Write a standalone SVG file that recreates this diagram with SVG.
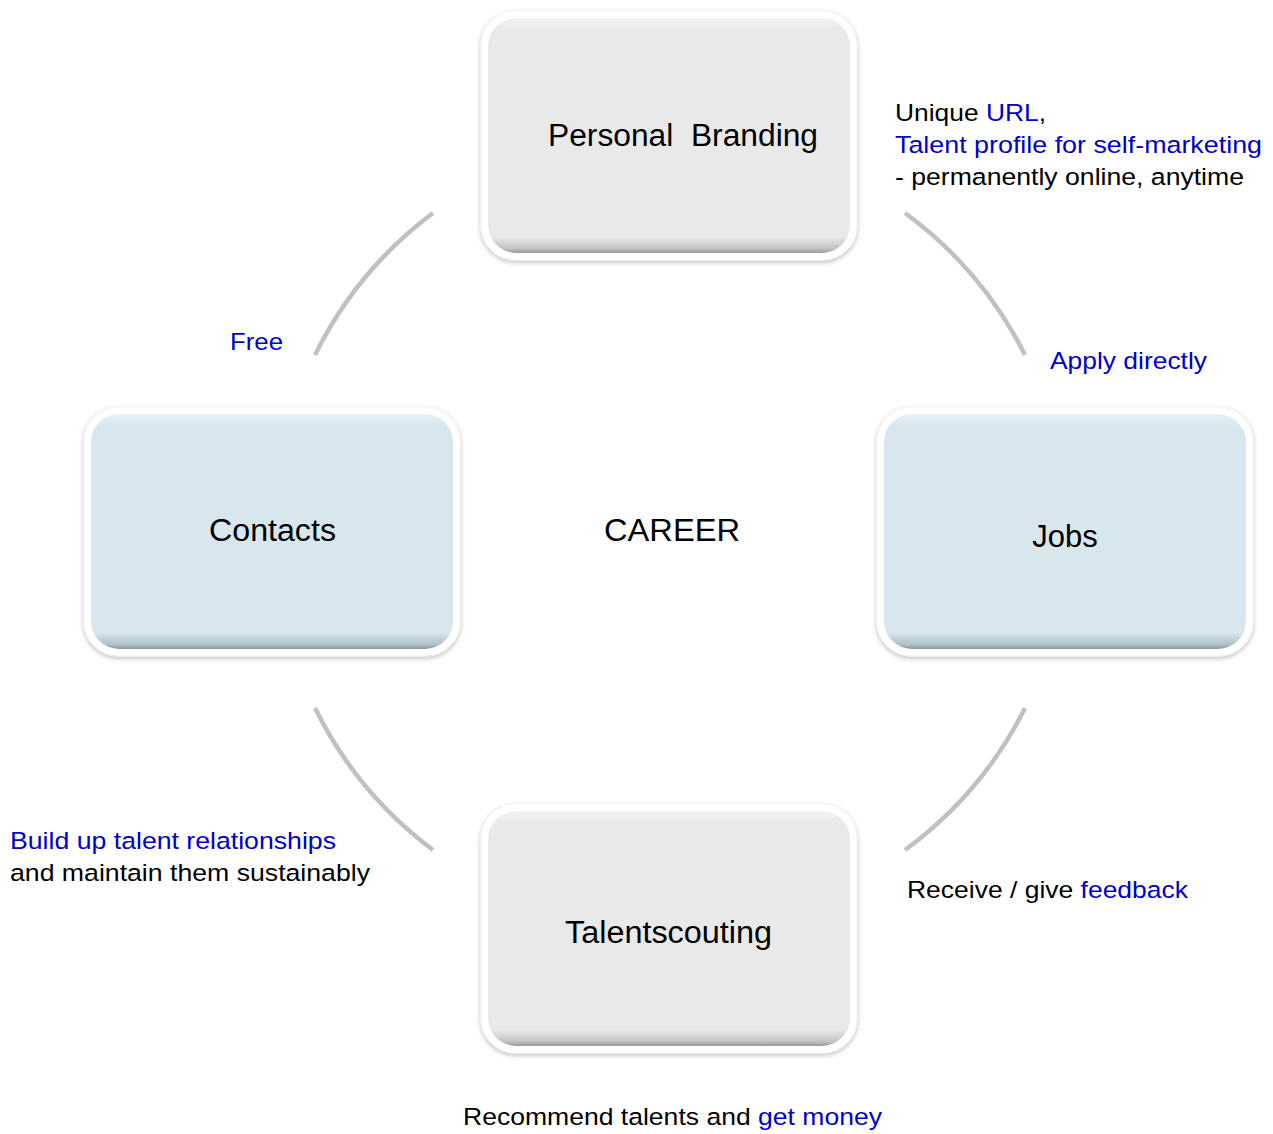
<svg xmlns="http://www.w3.org/2000/svg" width="1273" height="1134" viewBox="0 0 1273 1134">
<style>
.t{font-family:"Liberation Sans",Arial,sans-serif;fill:#000}
.n{font-size:31px}
.a{font-size:24.5px}
.b{fill:#0000cc}
.arc{fill:none;stroke:#c0c0c0;stroke-width:4.5}
.outer{fill:#fff;stroke:#f2f2f2;stroke-width:1;filter:url(#sh)}
</style>
<defs>
<filter id="sh" x="-10%" y="-10%" width="120%" height="125%">
<feGaussianBlur in="SourceAlpha" stdDeviation="2.5"/>
<feOffset dy="2"/>
<feComponentTransfer><feFuncA type="linear" slope="0.25"/></feComponentTransfer>
<feMerge><feMergeNode/><feMergeNode in="SourceGraphic"/></feMerge>
</filter>
<linearGradient id="gg" x1="0" y1="0" x2="0" y2="1">
<stop offset="0" stop-color="#f4f4f4"/>
<stop offset="0.05" stop-color="#e9e9e9"/>
<stop offset="0.93" stop-color="#e9e9e9"/>
<stop offset="0.98" stop-color="#c4c4c4"/>
<stop offset="1" stop-color="#9a9a9a"/>
</linearGradient>
<linearGradient id="gb" x1="0" y1="0" x2="0" y2="1">
<stop offset="0" stop-color="#e6f3f8"/>
<stop offset="0.05" stop-color="#d8e6ee"/>
<stop offset="0.93" stop-color="#d8e6ee"/>
<stop offset="0.98" stop-color="#b0c1ca"/>
<stop offset="1" stop-color="#8497a2"/>
</linearGradient>
</defs>
<rect width="1273" height="1134" fill="#fff"/>
<g id="connectors">
<path class="arc" d="M433,213 A396,396 0 0 0 315,355"/>
<path class="arc" d="M905,213 A396,396 0 0 1 1025,355"/>
<path class="arc" d="M1025,708 A396,396 0 0 1 905,850"/>
<path class="arc" d="M315,708 A396,396 0 0 0 433,850"/>
</g>
<g id="personal-branding">
<rect class="outer" x="481" y="11" width="376" height="249" rx="34"/>
<rect x="488" y="18" width="362" height="235" rx="28" fill="url(#gg)"/>
<text class="t n" x="548" y="146" xml:space="preserve" textLength="270" lengthAdjust="spacingAndGlyphs">Personal  Branding</text>
</g>
<g id="contacts">
<rect class="outer" x="84" y="407" width="376" height="249" rx="34"/>
<rect x="91" y="414" width="362" height="235" rx="28" fill="url(#gb)"/>
<text class="t n" x="209" y="541" textLength="127" lengthAdjust="spacingAndGlyphs">Contacts</text>
</g>
<g id="jobs">
<rect class="outer" x="877" y="407" width="376" height="249" rx="34"/>
<rect x="884" y="414" width="362" height="235" rx="28" fill="url(#gb)"/>
<text class="t n" x="1065" y="547" text-anchor="middle">Jobs</text>
</g>
<g id="talentscouting">
<rect class="outer" x="481" y="804" width="376" height="249" rx="34"/>
<rect x="488" y="811" width="362" height="235" rx="28" fill="url(#gg)"/>
<text class="t n" x="565" y="943" textLength="207" lengthAdjust="spacingAndGlyphs">Talentscouting</text>
</g>
<g id="career">
<text class="t n" x="604" y="541" textLength="136" lengthAdjust="spacingAndGlyphs">CAREER</text>
</g>
<g id="labels">
<text class="t a" x="895" y="121" textLength="151" lengthAdjust="spacingAndGlyphs">Unique <tspan class="b">URL</tspan>,</text>
<text class="t a b" x="895" y="153" textLength="367" lengthAdjust="spacingAndGlyphs">Talent profile for self-marketing</text>
<text class="t a" x="895" y="185" textLength="349" lengthAdjust="spacingAndGlyphs">- permanently online, anytime</text>
<text class="t a b" x="230" y="350" textLength="53" lengthAdjust="spacingAndGlyphs">Free</text>
<text class="t a b" x="1050" y="369" textLength="157" lengthAdjust="spacingAndGlyphs">Apply directly</text>
<text class="t a b" x="10" y="849" textLength="326" lengthAdjust="spacingAndGlyphs">Build up talent relationships</text>
<text class="t a" x="10" y="881" textLength="360" lengthAdjust="spacingAndGlyphs">and maintain them sustainably</text>
<text class="t a" x="907" y="898" textLength="281" lengthAdjust="spacingAndGlyphs">Receive / give <tspan class="b">feedback</tspan></text>
<text class="t a" x="463" y="1125" textLength="419" lengthAdjust="spacingAndGlyphs">Recommend talents and <tspan class="b">get money</tspan></text>
</g>
</svg>
